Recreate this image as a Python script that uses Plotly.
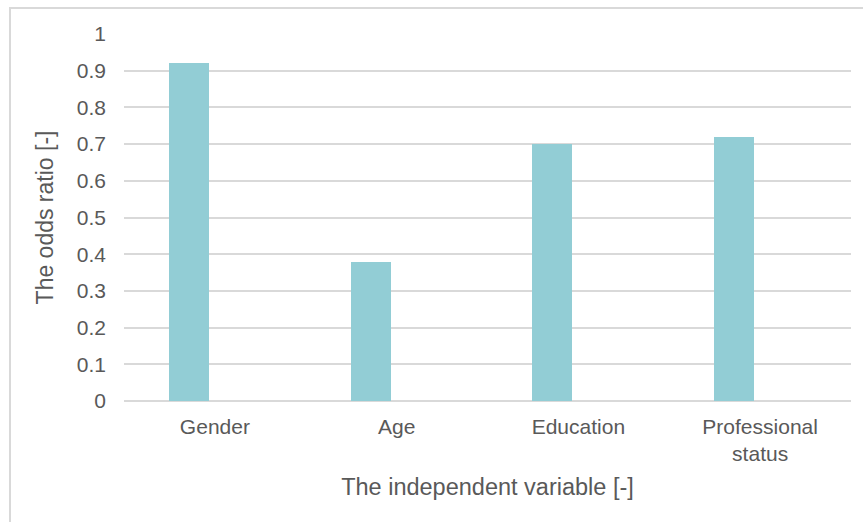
import plotly.graph_objects as go

# Odds ratio for each independent variable
categories = ["Gender", "Age", "Education", "Professional<br>status"]
odds_ratio = [0.92, 0.38, 0.70, 0.72]
y_ticks = [0, 0.1, 0.2, 0.3, 0.4, 0.5, 0.6, 0.7, 0.8, 0.9, 1]
y_tick_text = ["0", "0.1", "0.2", "0.3", "0.4", "0.5", "0.6", "0.7", "0.8", "0.9", "1"]

W, H = 863, 522
ML, MR, MT, MB = 124, 12, 34, 121
PW, PH = W - ML - MR, H - MT - MB

TEXT = "#595959"
GRID = "#d9d9d9"
FONT = "Liberation Sans, Arial, sans-serif"

fig = go.Figure(
    go.Bar(
        x=categories,
        y=odds_ratio,
        width=0.22,
        offset=-0.253,
        marker=dict(color="#92cdd5", line=dict(width=0)),
        hoverinfo="x+y",
    )
)

# chart area frame (light grey outline)
fig.add_shape(
    type="rect", xref="paper", yref="paper", layer="below",
    x0=(10 - ML) / PW, x1=(875 - ML) / PW,
    y0=(H - MB - 540) / PH, y1=(H - MB - 8) / PH,
    line=dict(color=GRID, width=2), fillcolor="rgba(0,0,0,0)",
)

fig.update_layout(
    width=W, height=H,
    margin=dict(l=ML, r=MR, t=MT, b=MB, pad=0),
    paper_bgcolor="white", plot_bgcolor="white",
    showlegend=False,
    font=dict(family=FONT, color=TEXT, size=21),
    bargap=0,
    xaxis=dict(
        type="category",
        showgrid=False, zeroline=False, showline=False, ticks="",
        tickfont=dict(size=21, color=TEXT),
        ticklabelstandoff=11,
        title=dict(text="The independent variable [-]",
                   font=dict(size=23.5, color=TEXT), standoff=14),
        fixedrange=True,
    ),
    yaxis=dict(
        range=[0, 1], tickvals=y_ticks, ticktext=y_tick_text,
        showgrid=True, gridcolor=GRID, gridwidth=2,
        zeroline=True, zerolinecolor=GRID, zerolinewidth=2,
        showline=False, ticks="",
        tickfont=dict(size=21, color=TEXT),
        ticklabelstandoff=17,
        title=dict(text="The odds ratio [-]",
                   font=dict(size=23, color=TEXT), standoff=16),
        fixedrange=True,
    ),
)

fig.write_html("out.html")
